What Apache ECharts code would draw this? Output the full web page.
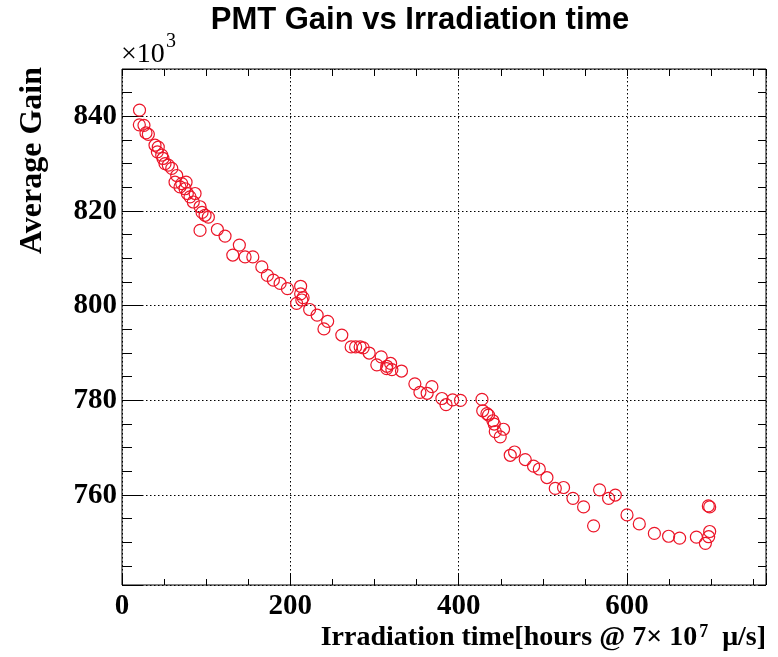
<!DOCTYPE html>
<html><head><meta charset="utf-8">
<script src="https://cdn.jsdelivr.net/npm/echarts@6/dist/echarts.min.js"></script>
<style>html,body{margin:0;padding:0;background:#fff;} #c{width:778px;height:657px;}</style>
</head><body><div id="c"></div>
<script>
// Irradiation time [hours @ 7x10^7 mu/s]
const irradiationHours = [
  20.8, 20.6, 26.1, 28.5, 31.3, 39.2, 43.1, 42.0, 47.2, 48.7,
  51.1, 55.0, 59.1, 65.0, 63.0, 71.0, 76.1, 68.9, 74.9, 77.6,
  86.8, 80.8, 84.7, 92.7, 95.1, 98.7, 102.6, 92.7, 113.3, 122.4,
  139.4, 131.6, 146.2, 155.4, 166.1, 172.7, 179.8, 187.8, 196.5, 212.2,
  212.2, 215.1, 213.6, 207.4, 222.9, 231.8, 244.3, 239.9, 261.1, 272.2,
  277.5, 282.9, 286.5, 293.6, 307.9, 302.7, 314.6, 319.1, 320.6, 314.4,
  332.0, 347.9, 368.1, 353.9, 362.5, 380.0, 384.9, 392.8, 402.1, 427.6,
  428.5, 433.5, 435.4, 440.6, 442.2, 443.4, 453.2, 449.3, 461.2, 466.3,
  479.0, 488.9, 495.7, 504.8, 514.7, 524.5, 535.7, 548.3, 560.2, 567.3,
  578.0, 586.0, 599.9, 614.5, 632.4, 649.3, 662.4, 682.3, 693.0, 696.9,
  698.1, 698.1, 696.5
];
// Average gain (x10^3)
const averageGain = [
  841.3, 838.2, 838.1, 836.5, 836.2, 833.9, 833.5, 832.5, 831.8, 831.1,
  830.0, 829.7, 829.0, 827.5, 826.1, 825.8, 826.1, 825.1, 824.7, 823.7,
  823.7, 823.0, 821.9, 820.9, 819.7, 819.1, 818.7, 815.9, 816.1, 814.7,
  812.8, 810.7, 810.3, 810.3, 808.2, 806.4, 805.4, 804.7, 803.6, 804.1,
  802.5, 801.7, 801.2, 800.5, 799.2, 798.0, 796.7, 795.1, 793.8, 791.3,
  791.3, 791.3, 791.1, 790.0, 789.2, 787.5, 787.2, 787.8, 786.5, 786.7,
  786.2, 783.5, 782.9, 781.7, 781.5, 780.4, 779.1, 780.1, 780.0, 780.2,
  777.8, 777.2, 776.9, 775.7, 775.0, 773.4, 773.9, 772.3, 768.4, 769.1,
  767.5, 766.1, 765.5, 763.7, 761.4, 761.6, 759.3, 757.5, 753.5, 761.1,
  759.3, 760.0, 755.8, 753.9, 751.9, 751.3, 750.9, 751.1, 749.8, 751.2,
  752.3, 757.5, 757.7
];
const xTickLabels = [0, 200, 400, 600];
const yTickLabels = [760, 780, 800, 820, 840];

const serif = '"Liberation Serif","Times New Roman",serif';
const black = '#000';
const dotted = { show: true, lineStyle: { color: black, width: 1, type: [1.5, 2.5] } };
const noLine = { show: false, onZero: false };

const points = irradiationHours.map((x, i) => [x, averageGain[i]]);

const chart = echarts.init(document.getElementById('c'), null, { renderer: 'canvas' });
chart.setOption({
  animation: false,
  backgroundColor: '#fff',
  grid: { left: 122, right: 12, top: 69, bottom: 72, show: true, borderColor: black, borderWidth: 1,
          backgroundColor: 'transparent', containLabel: false, outerBoundsMode: 'none' },
  xAxis: [
    { type: 'value', position: 'bottom', min: 0, max: 765, interval: 200,
      axisLine: noLine,
      axisTick: { show: true, inside: true, length: 12, lineStyle: { color: black } },
      axisLabel: { margin: 7, fontFamily: serif, fontWeight: 'bold', fontSize: 29, color: black,
                   formatter: v => xTickLabels.includes(v) ? String(v) : '' },
      splitLine: dotted },
    { type: 'value', position: 'bottom', min: 0, max: 765, interval: 50,
      axisLine: noLine,
      axisTick: { show: true, inside: true, length: 6, lineStyle: { color: black } },
      axisLabel: { show: false }, splitLine: { show: false } },
    { type: 'value', position: 'top', min: 0, max: 765, interval: 50,
      axisLine: noLine,
      axisTick: { show: true, inside: true, length: 7, lineStyle: { color: black } },
      axisLabel: { show: false }, splitLine: { show: false } }
  ],
  yAxis: [
    { type: 'value', position: 'left', min: 741, max: 850, splitNumber: 5,
      axisLine: noLine,
      axisTick: { show: true, inside: true, length: 20, lineStyle: { color: black } },
      axisLabel: { margin: 5, fontFamily: serif, fontWeight: 'bold', fontSize: 29, color: black,
                   padding: [6, 0, 0, 0],
                   formatter: v => yTickLabels.includes(Math.round(v * 1000) / 1000) ? String(v) : '' },
      splitLine: dotted },
    { type: 'value', position: 'left', min: 741, max: 850, splitNumber: 22,
      axisLine: noLine,
      axisTick: { show: true, inside: true, length: 10, lineStyle: { color: black } },
      axisLabel: { show: false }, splitLine: { show: false } },
    { type: 'value', position: 'right', min: 741, max: 850, splitNumber: 22,
      axisLine: noLine,
      axisTick: { show: true, inside: true, length: 8, lineStyle: { color: black } },
      axisLabel: { show: false }, splitLine: { show: false } }
  ],
  series: [{
    type: 'scatter', xAxisIndex: 0, yAxisIndex: 0, data: points,
    symbol: 'circle', symbolSize: 12,
    itemStyle: { color: 'rgba(0,0,0,0)', borderColor: '#ec1528', borderWidth: 1.2, opacity: 1 },
    emphasis: { disabled: true }
  }],
  graphic: [
    { type: 'text', x: 420, y: 20,
      style: { text: 'PMT Gain vs Irradiation time', font: 'bold 31px "Liberation Sans", Arial, sans-serif',
               fill: black, textAlign: 'center', textVerticalAlign: 'middle' } },
    { type: 'text', x: 121, y: 55,
      style: { text: '×10', font: '28px ' + serif, fill: black, textAlign: 'left', textVerticalAlign: 'middle' } },
    { type: 'text', x: 166, y: 42,
      style: { text: '3', font: '20px ' + serif, fill: black, textAlign: 'left', textVerticalAlign: 'middle' } },
    { type: 'text', x: 32.5, y: 160.5, rotation: Math.PI / 2,
      style: { text: 'Average Gain', font: 'bold 32px ' + serif, fill: black,
               textAlign: 'center', textVerticalAlign: 'middle' } },
    { type: 'text', x: 766, y: 638,
      style: { text: '{n|Irradiation time[hours @ 7× 10}{s|7}{n|  μ/s]}',
               textAlign: 'right', textVerticalAlign: 'middle', fill: black,
               rich: {
                 n: { fontFamily: serif, fontWeight: 'bold', fontSize: 28, lineHeight: 30, fill: black },
                 s: { fontFamily: serif, fontWeight: 'bold', fontSize: 18, lineHeight: 30, verticalAlign: 'top', fill: black, padding: [0, 0, 0, 2] }
               } } }
  ]
});
</script>
</body></html>
